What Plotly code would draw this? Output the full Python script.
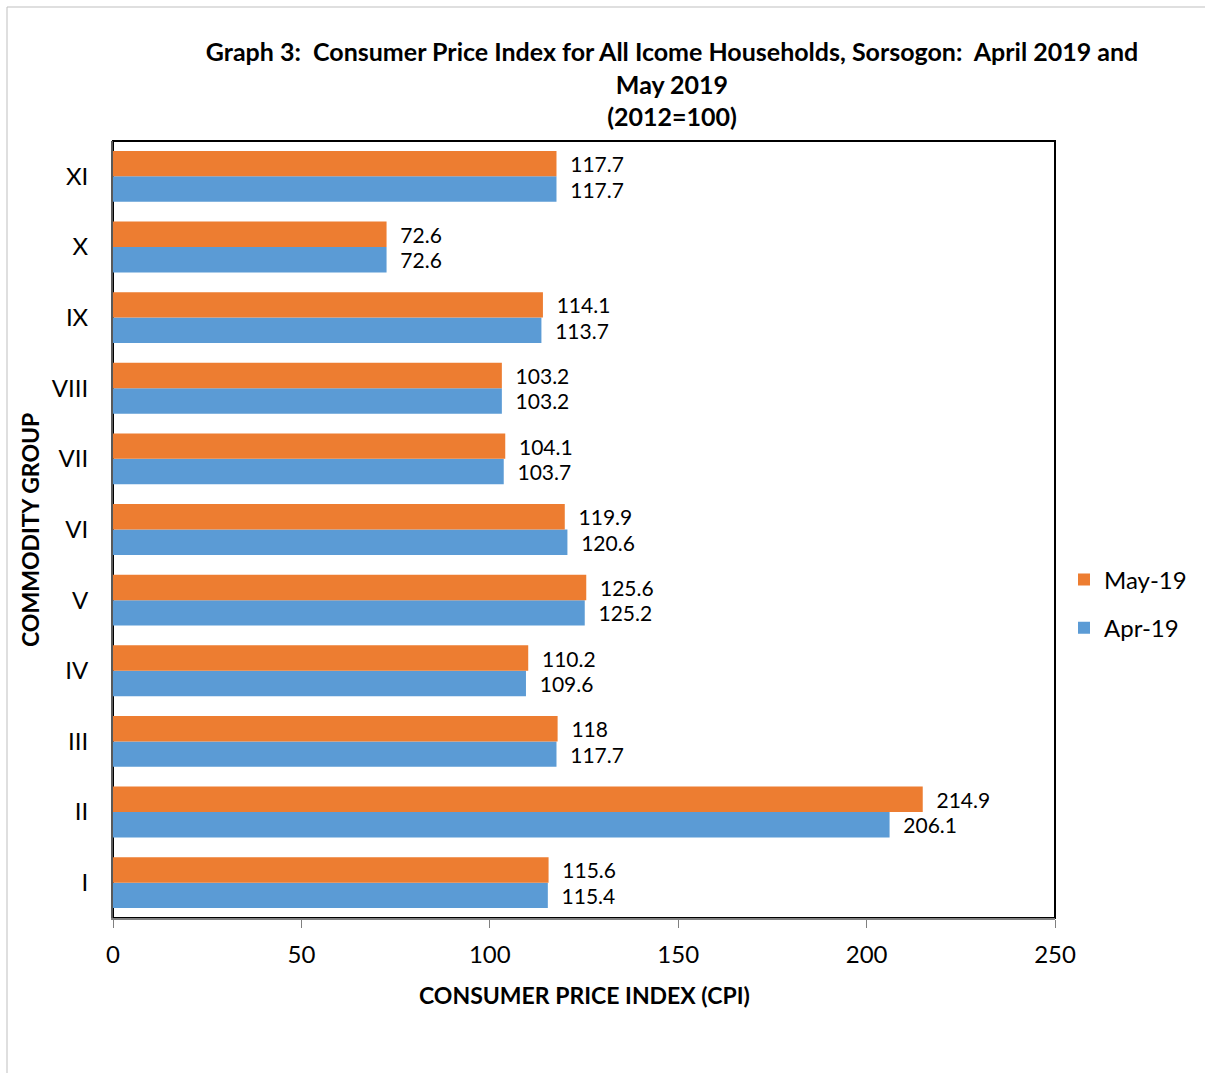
import plotly.graph_objects as go

categories = ["I", "II", "III", "IV", "V", "VI", "VII", "VIII", "IX", "X", "XI"]
may_19 = [115.6, 214.9, 118, 110.2, 125.6, 119.9, 104.1, 103.2, 114.1, 72.6, 117.7]
apr_19 = [115.4, 206.1, 117.7, 109.6, 125.2, 120.6, 103.7, 103.2, 113.7, 72.6, 117.7]
x_ticks = [0, 50, 100, 150, 200, 250]

FONT = "Lato"
W, H = 1205, 1073
L, R, T, B = 113, 150, 141, 155
pw, ph = W - L - R, H - T - B


def px_x(p):
    return (p - L) / pw


def px_y(p):
    return (H - B - p) / ph


def lab(v):
    return "\u00a0\u00a0" + f"{v:g}"


fig = go.Figure()
fig.add_trace(go.Bar(
    y=categories, x=apr_19, name="Apr-19", orientation="h",
    legendgroup="a", legendrank=2,
    marker=dict(color="#5B9BD5", line=dict(width=0)),
    text=[lab(v) for v in apr_19], textposition="outside",
    textfont=dict(family=FONT, size=21, color="#000000"),
    cliponaxis=False, constraintext="none",
))
fig.add_trace(go.Bar(
    y=categories, x=may_19, name="May-19", orientation="h",
    legendgroup="b", legendrank=1,
    marker=dict(color="#ED7D31", line=dict(width=0)),
    text=[lab(v) for v in may_19], textposition="outside",
    textfont=dict(family=FONT, size=21, color="#000000"),
    cliponaxis=False, constraintext="none",
))

fig.update_layout(
    width=W, height=H,
    margin=dict(l=L, r=R, t=T, b=B, autoexpand=False),
    paper_bgcolor="white", plot_bgcolor="white",
    barmode="group", bargap=0.28, bargroupgap=0,
    font=dict(family=FONT, size=24, color="#000000"),
    title=dict(
        text="<b>Graph 3:  Consumer Price Index for All Icome Households, Sorsogon:  April 2019 and<br>May 2019<br>(2012=100)</b>",
        x=px_x(672), xref="paper", xanchor="center",
        y=1 - 61 / H, yref="container", yanchor="middle",
        font=dict(family=FONT, size=25, color="#000000"),
    ),
    legend=dict(
        x=px_x(1064), y=px_y(604), xanchor="left", yanchor="middle",
        traceorder="grouped", font=dict(family=FONT, size=24, color="#000000"),
        itemwidth=30, tracegroupgap=14, bgcolor="rgba(0,0,0,0)",
    ),
    xaxis=dict(
        range=[0, 250], tickvals=x_ticks, ticks="outside", ticklen=8,
        tickcolor="#808080", tickwidth=1, showgrid=False, zeroline=False,
        showline=True, linecolor="#808080", linewidth=2,
        tickfont=dict(family=FONT, size=24, color="#000000"),
        ticklabelstandoff=6,
    ),
    yaxis=dict(
        categoryorder="array", categoryarray=categories,
        ticks="outside", ticklen=18, tickcolor="rgba(0,0,0,0)",
        showgrid=False, zeroline=False,
        showline=True, linecolor="#595959", linewidth=2,
        tickfont=dict(family=FONT, size=24, color="#000000"),
    ),
    annotations=[
        dict(text="<b>CONSUMER PRICE INDEX (CPI)</b>", xref="paper", yref="paper",
             x=0.5, y=px_y(995), xanchor="center", yanchor="middle", showarrow=False,
             font=dict(family=FONT, size=23, color="#000000")),
        dict(text="<b>COMMODITY GROUP</b>", xref="paper", yref="paper",
             x=px_x(30), y=px_y(530), xanchor="center", yanchor="middle", showarrow=False,
             textangle=-90, font=dict(family=FONT, size=23, color="#000000")),
    ],
    shapes=[
        dict(type="rect", xref="paper", yref="paper", x0=0, x1=1, y0=0, y1=1,
             line=dict(color="#000000", width=2), layer="below"),
        dict(type="rect", xref="paper", yref="paper",
             x0=px_x(7), x1=px_x(1215), y0=px_y(1085), y1=px_y(7),
             line=dict(color="#BFBFBF", width=1), layer="below"),
    ],
)

fig.write_html("out.html", config={"displayModeBar": False},
               post_script="document.body.style.margin='0px';")
